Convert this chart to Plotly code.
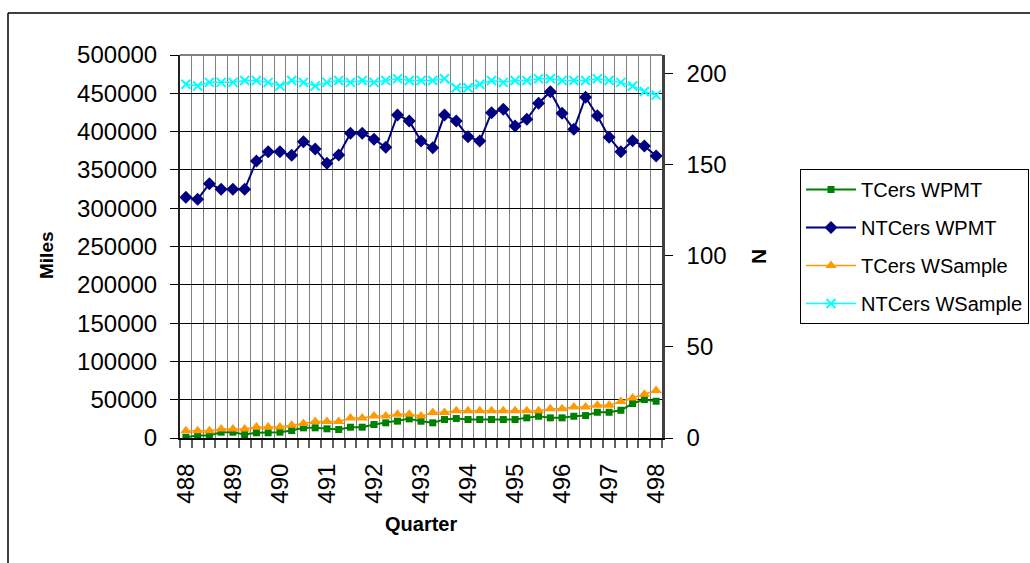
import plotly.graph_objects as go

# Quarterly series, 488 Q1 through 498 Q1 (41 quarters)
year_labels = ["488", "489", "490", "491", "492", "493", "494", "495", "496", "497", "498"]
quarter_index = list(range(41))

# Miles (left axis)
tcers_wpmt = [1000, 3300, 3300, 7600, 7600, 4600, 6800, 6800, 7600, 9800,
              13300, 13300, 12000, 11100, 14100, 14100, 17600, 19800, 22000, 25000,
              21900, 19800, 24100, 25400, 24100, 24100, 24100, 24100, 24100, 26300,
              28400, 26300, 26300, 28400, 29300, 33600, 33600, 36200, 45000, 50200,
              48000]
ntcers_wpmt = [314200, 311600, 332000, 324700, 324700, 324700, 361600, 373800, 373800, 369100,
               386800, 377300, 358600, 369500, 397800, 397800, 390000, 379500, 421700, 414000,
               387700, 379000, 421700, 413800, 393400, 387700, 424700, 429100, 407300, 416100,
               437000, 452100, 423900, 403000, 444800, 420800, 392600, 373800, 388100, 381200,
               368200]

# Sample counts N (right axis)
tcers_wsample = [4, 4, 4, 5, 5, 5, 6, 6, 6, 7,
                 8, 9, 9, 9, 11, 11, 12, 12, 13, 13,
                 12, 14, 14, 15, 15, 15, 15, 15, 15, 15,
                 15, 16, 16, 17, 17, 18, 18, 20, 22, 24,
                 26]
ntcers_wsample = [194, 193, 195, 195, 195, 196, 196, 195, 193, 196,
                  195, 193, 195, 196, 195, 196, 195, 196, 197, 196,
                  196, 196, 197, 192, 192, 194, 196, 195, 196, 196,
                  197, 197, 196, 196, 196, 197, 196, 195, 193, 190,
                  188]

FONT = "Liberation Sans, Arial, sans-serif"
W, H = 1030, 563
ML, MR, MT, MB = 180, 368, 55, 125
PW, PH = W - ML - MR, H - MT - MB


def px_x(px):
    return (px - ML) / PW


def px_y(py):
    return (H - MB - py) / PH


fig = go.Figure()

fig.add_trace(go.Scatter(
    x=quarter_index, y=tcers_wpmt, name="TCers WPMT", legendgroup="a",
    mode="lines+markers", line=dict(color="#008000", width=2),
    marker=dict(symbol="square", size=7, color="#008000"),
))
fig.add_trace(go.Scatter(
    x=quarter_index, y=ntcers_wpmt, name="NTCers WPMT", legendgroup="b",
    mode="lines+markers", line=dict(color="#000080", width=2),
    marker=dict(symbol="diamond", size=10, color="#000080"),
))
fig.add_trace(go.Scatter(
    x=quarter_index, y=tcers_wsample, name="TCers WSample", legendgroup="c",
    yaxis="y2", mode="lines+markers", line=dict(color="#FF9900", width=1.5),
    marker=dict(symbol="triangle-up", size=10, color="#FF9900"),
))
fig.add_trace(go.Scatter(
    x=quarter_index, y=ntcers_wsample, name="NTCers WSample", legendgroup="d",
    yaxis="y2", mode="lines+markers", line=dict(color="#00FFFF", width=1.5),
    marker=dict(symbol="x-thin", size=9, color="#00FFFF",
                line=dict(color="#00FFFF", width=2)),
))

boundaries = [i - 0.5 for i in range(42)]

fig.update_layout(
    width=W, height=H,
    margin=dict(l=ML, r=MR, t=MT, b=MB, autoexpand=False),
    paper_bgcolor="white", plot_bgcolor="white",
    font=dict(family=FONT, color="black"),
    showlegend=True,
    xaxis=dict(
        range=[-0.5, 40.5],
        tickmode="array", tickvals=list(range(0, 41, 4)), ticktext=year_labels,
        tickangle=-90, tickfont=dict(size=24, family=FONT),
        ticks="", showgrid=False, zeroline=False,
        showline=True, linecolor="black", linewidth=2,
        ticklabelstandoff=14,
        minor=dict(tickmode="array", tickvals=boundaries, showgrid=True,
                   gridcolor="#808080", gridwidth=1,
                   ticks="outside", ticklen=8, tickcolor="#606060", tickwidth=2),
    ),
    yaxis=dict(
        range=[0, 500000], dtick=50000, tickformat="d",
        tickfont=dict(size=24, family=FONT),
        showgrid=True, gridcolor="black", gridwidth=1, zeroline=False,
        showline=True, linecolor="#202020", linewidth=2,
        ticks="outside", ticklen=8, tickcolor="black", tickwidth=1,
        ticklabelstandoff=8,
    ),
    yaxis2=dict(
        overlaying="y", side="right", range=[0, 210],
        tickmode="array", tickvals=[0, 50, 100, 150, 200],
        tickfont=dict(size=24, family=FONT),
        showgrid=False, zeroline=False,
        showline=True, linecolor="#404040", linewidth=2.5,
        ticks="outside", ticklen=8, tickcolor="black", tickwidth=1,
        ticklabelstandoff=9,
    ),
    legend=dict(
        xref="container", yref="container",
        x=800 / W, y=1 - 169 / H, xanchor="left", yanchor="top",
        font=dict(size=20, family=FONT, color="black"),
        bordercolor="black", borderwidth=1, bgcolor="white",
        tracegroupgap=9, itemwidth=50,
    ),
    shapes=[
        # outer chart frame, left edge
        dict(type="line", xref="paper", yref="paper",
             x0=px_x(8), x1=px_x(8), y0=px_y(H + 5), y1=px_y(13),
             line=dict(color="black", width=1.5), layer="below"),
        # outer chart frame, top edge
        dict(type="line", xref="paper", yref="paper",
             x0=px_x(8), x1=px_x(W), y0=px_y(13), y1=px_y(13),
             line=dict(color="black", width=1.5), layer="below"),
        # plot-area top border
        dict(type="line", xref="paper", yref="paper",
             x0=0, x1=1, y0=1, y1=1,
             line=dict(color="#808080", width=2), layer="above"),
    ],
    annotations=[
        dict(text="<b>Miles</b>", xref="paper", yref="paper",
             x=px_x(47), y=px_y(255), xanchor="center", yanchor="middle",
             textangle=-90, showarrow=False,
             font=dict(size=19, family=FONT, color="black")),
        dict(text="<b>N</b>", xref="paper", yref="paper",
             x=px_x(758), y=px_y(257), xanchor="center", yanchor="middle",
             textangle=-90, showarrow=False,
             font=dict(size=21, family=FONT, color="black")),
        dict(text="<b>Quarter</b>", xref="paper", yref="paper",
             x=px_x(421), y=px_y(524), xanchor="center", yanchor="middle",
             showarrow=False,
             font=dict(size=20, family=FONT, color="black")),
    ],
)

fig.write_html(
    "out.html",
    post_script="document.body.style.margin='0';"
                "document.body.style.overflow='hidden';"
                "document.documentElement.style.overflow='hidden';",
)
